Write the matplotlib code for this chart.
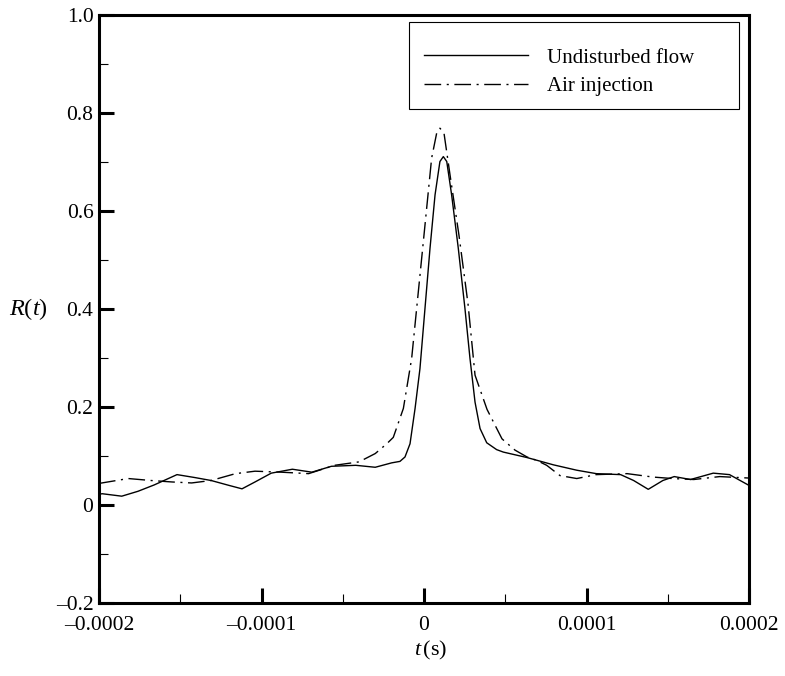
import matplotlib
matplotlib.use("Agg")
import matplotlib.pyplot as plt
from matplotlib.ticker import MultipleLocator
from matplotlib.patches import Rectangle

plt.rcParams['font.family'] = ['Liberation Serif', 'DejaVu Serif']
plt.rcParams['mathtext.fontset'] = 'custom'
plt.rcParams['mathtext.it'] = 'Liberation Serif:italic'
plt.rcParams['mathtext.rm'] = 'Liberation Serif'

# Undisturbed flow (solid)
t_undisturbed = [-0.000200, -0.000198, -0.000186, -0.000176, -0.000166, -0.000152, -0.000141,
                 -0.000131, -0.000120, -0.000112, -0.000104, -0.000094, -0.000081, -0.000069,
                 -0.000057, -0.000042, -0.000030, -0.0000199, -0.0000148, -0.0000117, -0.0000086,
                 -0.0000055, -0.0000025, 0.0000006, 0.0000037, 0.0000068, 0.0000098, 0.0000119,
                 0.0000140, 0.0000170, 0.0000211, 0.0000252, 0.0000283, 0.0000314, 0.0000345,
                 0.0000386, 0.0000447, 0.0000488, 0.0000632, 0.0000796, 0.0000940, 0.000106,
                 0.000121, 0.000129, 0.000138, 0.000147, 0.000154, 0.000164, 0.000178, 0.000188,
                 0.000200]
r_undisturbed = [0.022, 0.023, 0.018, 0.028, 0.041, 0.062, 0.056,
                 0.050, 0.040, 0.033, 0.047, 0.065, 0.073, 0.067,
                 0.079, 0.081, 0.077, 0.086, 0.089, 0.098, 0.125,
                 0.197, 0.278, 0.401, 0.524, 0.633, 0.701, 0.711,
                 0.701, 0.633, 0.524, 0.401, 0.299, 0.210, 0.156,
                 0.127, 0.113, 0.108, 0.097, 0.082, 0.071, 0.064,
                 0.062, 0.050, 0.032, 0.050, 0.058, 0.052, 0.065, 0.062,
                 0.040]

# Air injection (dash-dot)
t_air = [-0.000200, -0.000182, -0.000168, -0.000155, -0.000143, -0.000131, -0.000116,
         -0.000104, -0.000088, -0.000071, -0.000055, -0.000040, -0.000030, -0.0000229,
         -0.0000189, -0.0000127, -0.0000076, -0.0000035, 0.0000006, 0.0000047, 0.0000078,
         0.0000098, 0.0000123, 0.0000160, 0.0000215, 0.0000271, 0.0000314, 0.0000388,
         0.0000480, 0.0000560, 0.0000634, 0.0000694, 0.0000755, 0.0000837, 0.0000940,
         0.000106, 0.000125, 0.000141, 0.000153, 0.000166, 0.000182, 0.000200]
r_air = [0.044, 0.054, 0.050, 0.047, 0.045, 0.050, 0.064,
         0.069, 0.067, 0.064, 0.081, 0.088, 0.105, 0.125,
         0.138, 0.197, 0.299, 0.435, 0.571, 0.708, 0.759,
         0.769, 0.759, 0.674, 0.551, 0.410, 0.265, 0.195,
         0.135, 0.112, 0.098, 0.091, 0.081, 0.060, 0.054,
         0.062, 0.064, 0.057, 0.054, 0.052, 0.058, 0.055]

xticks = [-0.0002, -0.0001, 0.0, 0.0001, 0.0002]
xticklabels = ['\u20130.0002', '\u20130.0001', '0', '0.0001', '0.0002']
yticks = [-0.2, 0.0, 0.2, 0.4, 0.6, 0.8, 1.0]
yticklabels = ['\u20130.2', '0', '0.2', '0.4', '0.6', '0.8', '1.0']

fig = plt.figure(figsize=(7.85, 6.76), dpi=100)
ax = fig.add_axes([99/785, 1-603/676, 650/785, 588/676])

ax.plot(t_undisturbed, r_undisturbed, color='black', lw=1.0, label='Undisturbed flow')
ax.plot(t_air, r_air, color='black', lw=1.0, linestyle=(0, (12, 4, 1.5, 4)), label='Air injection')

ax.set_xlim(-0.0002, 0.0002)
ax.set_ylim(-0.2, 1.0)
ax.set_xticks(xticks)
ax.set_xticklabels(xticklabels)
ax.set_yticks(yticks)
ax.set_yticklabels(yticklabels)
ax.xaxis.set_minor_locator(MultipleLocator(0.00005))
ax.yaxis.set_minor_locator(MultipleLocator(0.1))
ax.tick_params(which='major', direction='in', length=11, width=2.2, labelsize=15.5,
               top=False, right=False)
ax.tick_params(which='minor', direction='in', length=6.5, width=0.8, top=False, right=False)
ax.tick_params(axis='x', which='major', pad=9)
ax.tick_params(axis='y', which='major', pad=4)
for s in ax.spines.values():
    s.set_linewidth(2.2)

ax.set_xlabel(r'$t\,$(s)', fontsize=16, va='center', ha='center')
ax.xaxis.set_label_coords(0.51, -0.080)
ax.set_ylabel(r'$R(t)$', fontsize=17.5, rotation=0, va='center', ha='center')
ax.yaxis.set_label_coords(-0.108, 0.5)

# legend frame drawn separately to match reference padding
ax.add_patch(Rectangle((310/650, (603-109)/588), 330/650, 87/588, transform=ax.transAxes,
                       fill=False, edgecolor='black', lw=0.8, zorder=4))
leg = ax.legend(loc='upper left', bbox_to_anchor=((424-99)/650, (603-48)/588),
                fontsize=15, frameon=False, handlelength=5.0,
                borderpad=0.0, labelspacing=0.42, handletextpad=0.9, borderaxespad=0.0)

fig.savefig('out.png', dpi=100)
